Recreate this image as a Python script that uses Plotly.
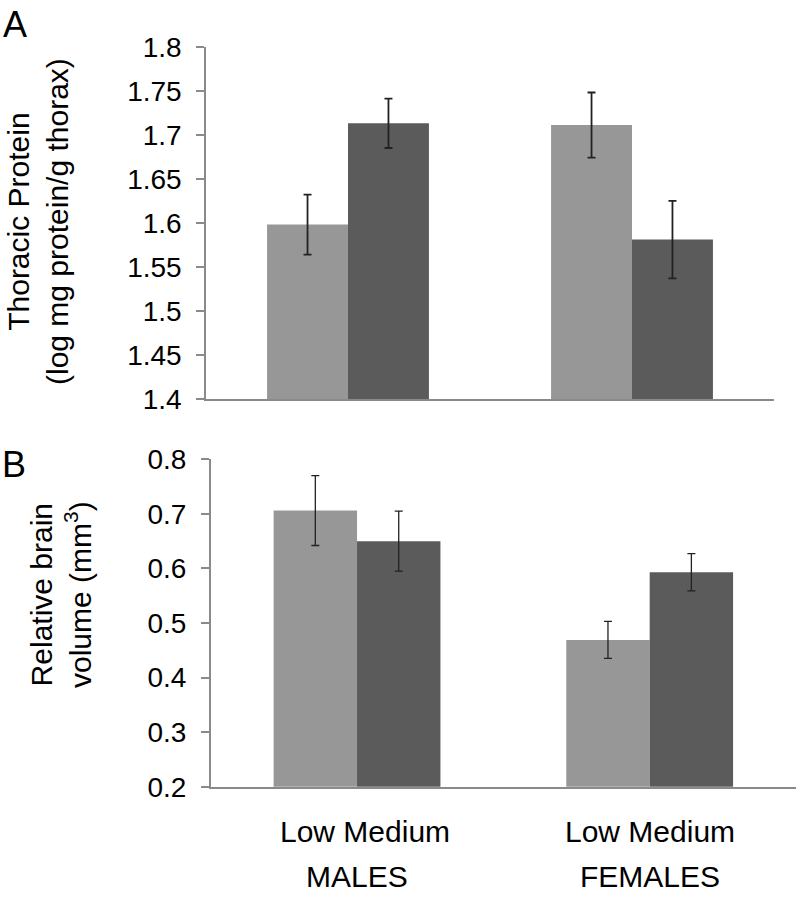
import plotly.graph_objects as go

# ---- data ----
groups = ["MALES", "FEMALES"]
levels = ["Low", "Medium"]
level_label = "Low Medium"

protein_low = [1.598, 1.711]
protein_low_err = [0.034, 0.037]
protein_med = [1.713, 1.581]
protein_med_err = [0.028, 0.044]

brain_low = [0.706, 0.469]
brain_low_err = [0.064, 0.034]
brain_med = [0.650, 0.593]
brain_med_err = [0.055, 0.034]

protein_ticks = [1.4, 1.45, 1.5, 1.55, 1.6, 1.65, 1.7, 1.75, 1.8]
protein_ticklabels = ["1.4", "1.45", "1.5", "1.55", "1.6", "1.65", "1.7", "1.75", "1.8"]
brain_ticks = [0.2, 0.3, 0.4, 0.5, 0.6, 0.7, 0.8]
brain_ticklabels = ["0.2", "0.3", "0.4", "0.5", "0.6", "0.7", "0.8"]

protein_title = "Thoracic Protein<br>(log mg protein/g thorax)"
brain_title = "Relative brain<br>volume (mm<sup>3</sup>)"

LIGHT = "#979797"
DARK = "#5b5b5b"
ERR = "#222222"
AXIS = "#8a8a8a"
FONT = "Liberation Sans, Arial, sans-serif"

W, H = 796, 897

fig = go.Figure()

def add_bars(y, err, color, name, xa, ya, thick):
    fig.add_trace(go.Bar(
        x=groups, y=y, name=name, marker=dict(color=color, line=dict(width=0)),
        error_y=dict(type="data", array=err, visible=True, color=ERR, thickness=thick, width=4),
        xaxis=xa, yaxis=ya, showlegend=False,
    ))

add_bars(protein_low, protein_low_err, LIGHT, "Low", "x", "y", 1.8)
add_bars(protein_med, protein_med_err, DARK, "Medium", "x", "y", 1.8)
add_bars(brain_low, brain_low_err, LIGHT, "Low", "x2", "y2", 1.3)
add_bars(brain_med, brain_med_err, DARK, "Medium", "x2", "y2", 1.3)

def py(px):
    return 1 - px / H

def pxx(px):
    return px / W

common_y = dict(
    showgrid=False, zeroline=False, showline=True, linecolor=AXIS, linewidth=1.5,
    ticks="outside", ticklen=8, tickwidth=1.5, tickcolor=AXIS, automargin=False,
    tickfont=dict(family=FONT, size=28, color="#000000"), ticklabelstandoff=9,
)
common_x = dict(
    showgrid=False, zeroline=False, showline=True, linecolor=AXIS, linewidth=1.5,
    ticks="", showticklabels=False, range=[-0.5, 1.5], automargin=False,
)

fig.update_layout(
    width=W, height=H,
    margin=dict(l=0, r=0, t=0, b=0, pad=0, autoexpand=False),
    paper_bgcolor="white", plot_bgcolor="white",
    barmode="group", bargap=0.43, bargroupgap=0,
    font=dict(family=FONT, color="#000000"),
    xaxis=dict(domain=[pxx(206), pxx(774)], anchor="y", **common_x),
    yaxis=dict(domain=[py(399), py(46.7)], anchor="x", range=[1.4, 1.8],
               tickvals=protein_ticks, ticktext=protein_ticklabels, **common_y),
    xaxis2=dict(domain=[pxx(210.7), 1.0], anchor="y2", **common_x),
    yaxis2=dict(domain=[py(786.7), py(459.3)], anchor="x2", range=[0.2, 0.8],
                tickvals=brain_ticks, ticktext=brain_ticklabels, **common_y),
)

TXT = dict(family=FONT, size=30, color="#000000")
annotations = []
for i, g in enumerate(groups):
    annotations.append(dict(x=g, xref="x2", y=py(831.7), yref="paper", text=level_label,
                            showarrow=False, xanchor="center", yanchor="middle", font=TXT,
                            xshift=8 if i == 0 else 0))
    annotations.append(dict(x=g, xref="x2", y=py(876.7), yref="paper", text=g,
                            showarrow=False, xanchor="center", yanchor="middle", font=TXT))
annotations.append(dict(x=pxx(38), y=py(222), xref="paper", yref="paper", text=protein_title,
                        textangle=-90, showarrow=False, xanchor="center", yanchor="middle",
                        font=TXT))
annotations.append(dict(x=pxx(61), y=py(595), xref="paper", yref="paper", text=brain_title,
                        textangle=-90, showarrow=False, xanchor="center", yanchor="middle",
                        font=TXT))
annotations.append(dict(x=pxx(1), y=py(2), xref="paper", yref="paper", text="A",
                        showarrow=False, xanchor="left", yanchor="top",
                        font=dict(family=FONT, size=36, color="#000000")))
annotations.append(dict(x=pxx(0), y=py(442), xref="paper", yref="paper", text="B",
                        showarrow=False, xanchor="left", yanchor="top",
                        font=dict(family=FONT, size=36, color="#000000")))
fig.update_layout(annotations=annotations)

fig.write_html("out.html", config={"displayModeBar": False},
               post_script="document.body.style.margin='0px';")
